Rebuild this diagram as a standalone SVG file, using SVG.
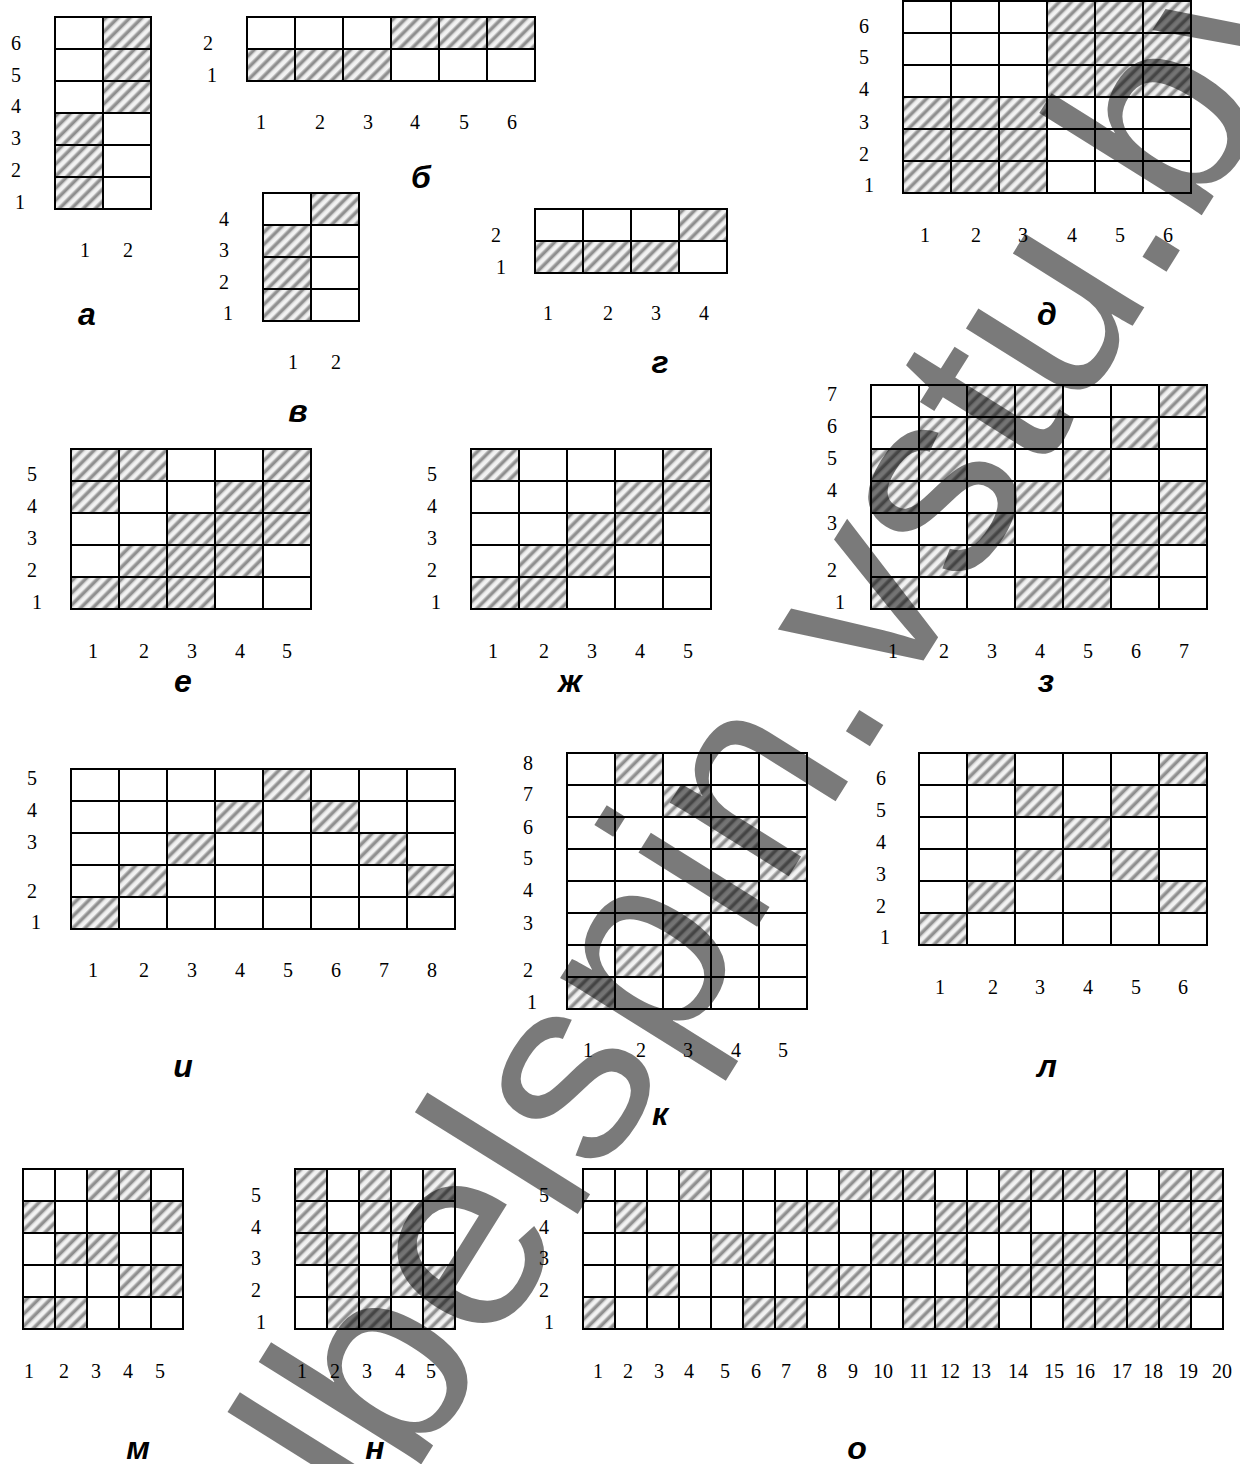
<svg xmlns="http://www.w3.org/2000/svg" width="1240" height="1464" viewBox="0 0 1240 1464">
<style>
.h{fill:url(#hp)}
.g{fill:none;stroke:#000;stroke-width:2}
.n{font-family:"Liberation Serif","Times New Roman",serif;font-size:20px;text-anchor:middle;fill:#000}
.t{font-family:"Liberation Sans",Arial,sans-serif;font-size:32px;font-weight:bold;font-style:italic;text-anchor:middle;fill:#000}
.wm{font-family:"Liberation Sans",Arial,sans-serif;font-size:265px;fill:#000;fill-opacity:.52}
</style>
<defs>
<pattern id="hp" patternUnits="userSpaceOnUse" width="8.5" height="8.5" patternTransform="rotate(45)">
<rect width="8.5" height="8.5" fill="#f2f2f2"/>
<rect x="0" width="5" height="8.5" fill="#c8c8c8"/>
<rect x="1.2" width="2.6" height="8.5" fill="#8e8e8e"/>
</pattern>
</defs>
<rect width="1240" height="1464" fill="#fff"/>

<g id="grid-a">
<rect class="h" x="103" y="17" width="48" height="96"/><rect class="h" x="55" y="113" width="48" height="96"/>
<path class="g" d="M55 17H151V209H55Z M103 17V209 M55 49H151 M55 81H151 M55 113H151 M55 145H151 M55 177H151"/>
<text class="n" x="16" y="50">6</text><text class="n" x="16" y="82">5</text><text class="n" x="16" y="113">4</text><text class="n" x="16" y="145">3</text><text class="n" x="16" y="177">2</text><text class="n" x="20" y="209">1</text>
<text class="n" x="85" y="257">1</text><text class="n" x="128" y="257">2</text>
<text class="t" x="87" y="325">а</text>
</g>

<g id="grid-b">
<rect class="h" x="391" y="17" width="144" height="32"/><rect class="h" x="247" y="49" width="144" height="32"/>
<path class="g" d="M247 17H535V81H247Z M295 17V81 M343 17V81 M391 17V81 M439 17V81 M487 17V81 M247 49H535"/>
<text class="n" x="208" y="50">2</text><text class="n" x="212" y="82">1</text>
<text class="n" x="261" y="129">1</text><text class="n" x="320" y="129">2</text><text class="n" x="368" y="129">3</text><text class="n" x="415" y="129">4</text><text class="n" x="464" y="129">5</text><text class="n" x="512" y="129">6</text>
<text class="t" x="421" y="188">б</text>
</g>

<g id="grid-v">
<rect class="h" x="311" y="193" width="48" height="32"/><rect class="h" x="263" y="225" width="48" height="96"/>
<path class="g" d="M263 193H359V321H263Z M311 193V321 M263 225H359 M263 257H359 M263 289H359"/>
<text class="n" x="224" y="226">4</text><text class="n" x="224" y="257">3</text><text class="n" x="224" y="289">2</text><text class="n" x="228" y="320">1</text>
<text class="n" x="293" y="369">1</text><text class="n" x="336" y="369">2</text>
<text class="t" x="298" y="422">в</text>
</g>

<g id="grid-g">
<rect class="h" x="679" y="209" width="48" height="32"/><rect class="h" x="535" y="241" width="144" height="32"/>
<path class="g" d="M535 209H727V273H535Z M583 209V273 M631 209V273 M679 209V273 M535 241H727"/>
<text class="n" x="496" y="242">2</text><text class="n" x="501" y="274">1</text>
<text class="n" x="548" y="320">1</text><text class="n" x="608" y="320">2</text><text class="n" x="656" y="320">3</text><text class="n" x="704" y="320">4</text>
<text class="t" x="660" y="373">г</text>
</g>

<g id="grid-d">
<rect class="h" x="1047" y="1" width="144" height="96"/><rect class="h" x="903" y="97" width="144" height="96"/>
<path class="g" d="M903 1H1191V193H903Z M951 1V193 M999 1V193 M1047 1V193 M1095 1V193 M1143 1V193 M903 33H1191 M903 65H1191 M903 97H1191 M903 129H1191 M903 161H1191"/>
<text class="n" x="864" y="33">6</text><text class="n" x="864" y="64">5</text><text class="n" x="864" y="96">4</text><text class="n" x="864" y="129">3</text><text class="n" x="864" y="161">2</text><text class="n" x="869" y="192">1</text>
<text class="n" x="925" y="242">1</text><text class="n" x="976" y="242">2</text><text class="n" x="1023" y="242">3</text><text class="n" x="1072" y="242">4</text><text class="n" x="1120" y="242">5</text><text class="n" x="1168" y="242">6</text>
<text class="t" x="1047" y="325">д</text>
</g>

<g id="grid-e">
<rect class="h" x="71" y="449" width="96" height="32"/><rect class="h" x="263" y="449" width="48" height="32"/>
<rect class="h" x="71" y="481" width="48" height="32"/><rect class="h" x="215" y="481" width="96" height="32"/>
<rect class="h" x="167" y="513" width="144" height="32"/>
<rect class="h" x="119" y="545" width="144" height="32"/>
<rect class="h" x="71" y="577" width="144" height="32"/>
<path class="g" d="M71 449H311V609H71Z M119 449V609 M167 449V609 M215 449V609 M263 449V609 M71 481H311 M71 513H311 M71 545H311 M71 577H311"/>
<text class="n" x="32" y="481">5</text><text class="n" x="32" y="513">4</text><text class="n" x="32" y="545">3</text><text class="n" x="32" y="577">2</text><text class="n" x="37" y="609">1</text>
<text class="n" x="93" y="658">1</text><text class="n" x="144" y="658">2</text><text class="n" x="192" y="658">3</text><text class="n" x="240" y="658">4</text><text class="n" x="287" y="658">5</text>
<text class="t" x="183" y="692">е</text>
</g>

<g id="grid-zh">
<rect class="h" x="471" y="449" width="48" height="32"/><rect class="h" x="663" y="449" width="48" height="32"/>
<rect class="h" x="615" y="481" width="96" height="32"/>
<rect class="h" x="567" y="513" width="96" height="32"/>
<rect class="h" x="519" y="545" width="96" height="32"/>
<rect class="h" x="471" y="577" width="96" height="32"/>
<path class="g" d="M471 449H711V609H471Z M519 449V609 M567 449V609 M615 449V609 M663 449V609 M471 481H711 M471 513H711 M471 545H711 M471 577H711"/>
<text class="n" x="432" y="481">5</text><text class="n" x="432" y="513">4</text><text class="n" x="432" y="545">3</text><text class="n" x="432" y="577">2</text><text class="n" x="436" y="609">1</text>
<text class="n" x="493" y="658">1</text><text class="n" x="544" y="658">2</text><text class="n" x="592" y="658">3</text><text class="n" x="640" y="658">4</text><text class="n" x="688" y="658">5</text>
<text class="t" x="570" y="692">ж</text>
</g>

<g id="grid-z">
<rect class="h" x="967" y="385" width="96" height="32"/><rect class="h" x="1159" y="385" width="48" height="32"/>
<rect class="h" x="919" y="417" width="96" height="32"/><rect class="h" x="1111" y="417" width="48" height="32"/>
<rect class="h" x="871" y="449" width="96" height="32"/><rect class="h" x="1063" y="449" width="48" height="32"/>
<rect class="h" x="871" y="481" width="48" height="32"/><rect class="h" x="1015" y="481" width="48" height="32"/><rect class="h" x="1159" y="481" width="48" height="32"/>
<rect class="h" x="967" y="513" width="48" height="32"/><rect class="h" x="1111" y="513" width="96" height="32"/>
<rect class="h" x="919" y="545" width="48" height="32"/><rect class="h" x="1063" y="545" width="96" height="32"/>
<rect class="h" x="871" y="577" width="48" height="32"/><rect class="h" x="1015" y="577" width="96" height="32"/>
<path class="g" d="M871 385H1207V609H871Z M919 385V609 M967 385V609 M1015 385V609 M1063 385V609 M1111 385V609 M1159 385V609 M871 417H1207 M871 449H1207 M871 481H1207 M871 513H1207 M871 545H1207 M871 577H1207"/>
<text class="n" x="832" y="401">7</text><text class="n" x="832" y="433">6</text><text class="n" x="832" y="465">5</text><text class="n" x="832" y="497">4</text><text class="n" x="832" y="530">3</text><text class="n" x="832" y="577">2</text><text class="n" x="840" y="609">1</text>
<text class="n" x="893" y="658">1</text><text class="n" x="944" y="658">2</text><text class="n" x="992" y="658">3</text><text class="n" x="1040" y="658">4</text><text class="n" x="1088" y="658">5</text><text class="n" x="1136" y="658">6</text><text class="n" x="1184" y="658">7</text>
<text class="t" x="1046" y="692">з</text>
</g>

<g id="grid-i">
<rect class="h" x="263" y="769" width="48" height="32"/>
<rect class="h" x="215" y="801" width="48" height="32"/><rect class="h" x="311" y="801" width="48" height="32"/>
<rect class="h" x="167" y="833" width="48" height="32"/><rect class="h" x="359" y="833" width="48" height="32"/>
<rect class="h" x="119" y="865" width="48" height="32"/><rect class="h" x="407" y="865" width="48" height="32"/>
<rect class="h" x="71" y="897" width="48" height="32"/>
<path class="g" d="M71 769H455V929H71Z M119 769V929 M167 769V929 M215 769V929 M263 769V929 M311 769V929 M359 769V929 M407 769V929 M71 801H455 M71 833H455 M71 865H455 M71 897H455"/>
<text class="n" x="32" y="785">5</text><text class="n" x="32" y="817">4</text><text class="n" x="32" y="849">3</text><text class="n" x="32" y="898">2</text><text class="n" x="36" y="929">1</text>
<text class="n" x="93" y="977">1</text><text class="n" x="144" y="977">2</text><text class="n" x="192" y="977">3</text><text class="n" x="240" y="977">4</text><text class="n" x="288" y="977">5</text><text class="n" x="336" y="977">6</text><text class="n" x="384" y="977">7</text><text class="n" x="432" y="977">8</text>
<text class="t" x="183" y="1077">и</text>
</g>

<g id="grid-k">
<rect class="h" x="615" y="753" width="48" height="32"/>
<rect class="h" x="663" y="785" width="48" height="32"/>
<rect class="h" x="711" y="817" width="48" height="32"/>
<rect class="h" x="759" y="849" width="48" height="32"/>
<rect class="h" x="711" y="881" width="48" height="32"/>
<rect class="h" x="663" y="913" width="48" height="32"/>
<rect class="h" x="615" y="945" width="48" height="32"/>
<rect class="h" x="567" y="977" width="48" height="32"/>
<path class="g" d="M567 753H807V1009H567Z M615 753V1009 M663 753V1009 M711 753V1009 M759 753V1009 M567 785H807 M567 817H807 M567 849H807 M567 881H807 M567 913H807 M567 945H807 M567 977H807"/>
<text class="n" x="528" y="770">8</text><text class="n" x="528" y="801">7</text><text class="n" x="528" y="834">6</text><text class="n" x="528" y="865">5</text><text class="n" x="528" y="897">4</text><text class="n" x="528" y="930">3</text><text class="n" x="528" y="977">2</text><text class="n" x="532" y="1009">1</text>
<text class="n" x="588" y="1057">1</text><text class="n" x="641" y="1057">2</text><text class="n" x="688" y="1057">3</text><text class="n" x="736" y="1057">4</text><text class="n" x="783" y="1057">5</text>
<text class="t" x="660" y="1125">к</text>
</g>

<g id="grid-l">
<rect class="h" x="967" y="753" width="48" height="32"/><rect class="h" x="1159" y="753" width="48" height="32"/>
<rect class="h" x="1015" y="785" width="48" height="32"/><rect class="h" x="1111" y="785" width="48" height="32"/>
<rect class="h" x="1063" y="817" width="48" height="32"/>
<rect class="h" x="1015" y="849" width="48" height="32"/><rect class="h" x="1111" y="849" width="48" height="32"/>
<rect class="h" x="967" y="881" width="48" height="32"/><rect class="h" x="1159" y="881" width="48" height="32"/>
<rect class="h" x="919" y="913" width="48" height="32"/>
<path class="g" d="M919 753H1207V945H919Z M967 753V945 M1015 753V945 M1063 753V945 M1111 753V945 M1159 753V945 M919 785H1207 M919 817H1207 M919 849H1207 M919 881H1207 M919 913H1207"/>
<text class="n" x="881" y="785">6</text><text class="n" x="881" y="817">5</text><text class="n" x="881" y="849">4</text><text class="n" x="881" y="881">3</text><text class="n" x="881" y="913">2</text><text class="n" x="885" y="944">1</text>
<text class="n" x="940" y="994">1</text><text class="n" x="993" y="994">2</text><text class="n" x="1040" y="994">3</text><text class="n" x="1088" y="994">4</text><text class="n" x="1136" y="994">5</text><text class="n" x="1183" y="994">6</text>
<text class="t" x="1047" y="1077">л</text>
</g>

<g id="grid-m">
<rect class="h" x="87" y="1169" width="64" height="32"/>
<rect class="h" x="23" y="1201" width="32" height="32"/><rect class="h" x="151" y="1201" width="32" height="32"/>
<rect class="h" x="55" y="1233" width="64" height="32"/>
<rect class="h" x="119" y="1265" width="64" height="32"/>
<rect class="h" x="23" y="1297" width="64" height="32"/>
<path class="g" d="M23 1169H183V1329H23Z M55 1169V1329 M87 1169V1329 M119 1169V1329 M151 1169V1329 M23 1201H183 M23 1233H183 M23 1265H183 M23 1297H183"/>
<text class="n" x="29" y="1378">1</text><text class="n" x="64" y="1378">2</text><text class="n" x="96" y="1378">3</text><text class="n" x="128" y="1378">4</text><text class="n" x="160" y="1378">5</text>
<text class="t" x="138" y="1459">м</text>
</g>

<g id="grid-n">
<rect class="h" x="295" y="1169" width="32" height="32"/><rect class="h" x="359" y="1169" width="32" height="32"/><rect class="h" x="423" y="1169" width="32" height="32"/>
<rect class="h" x="295" y="1201" width="32" height="32"/><rect class="h" x="359" y="1201" width="64" height="32"/>
<rect class="h" x="295" y="1233" width="64" height="32"/><rect class="h" x="391" y="1233" width="32" height="32"/>
<rect class="h" x="327" y="1265" width="32" height="32"/><rect class="h" x="391" y="1265" width="64" height="32"/>
<rect class="h" x="327" y="1297" width="64" height="32"/><rect class="h" x="423" y="1297" width="32" height="32"/>
<path class="g" d="M295 1169H455V1329H295Z M327 1169V1329 M359 1169V1329 M391 1169V1329 M423 1169V1329 M295 1201H455 M295 1233H455 M295 1265H455 M295 1297H455"/>
<text class="n" x="256" y="1202">5</text><text class="n" x="256" y="1234">4</text><text class="n" x="256" y="1265">3</text><text class="n" x="256" y="1297">2</text><text class="n" x="261" y="1329">1</text>
<text class="n" x="302" y="1378">1</text><text class="n" x="335" y="1378">2</text><text class="n" x="367" y="1378">3</text><text class="n" x="400" y="1378">4</text><text class="n" x="431" y="1378">5</text>
<text class="t" x="375" y="1459">н</text>
</g>

<g id="grid-o">
<rect class="h" x="679" y="1169" width="32" height="32"/><rect class="h" x="839" y="1169" width="96" height="32"/><rect class="h" x="999" y="1169" width="128" height="32"/><rect class="h" x="1159" y="1169" width="64" height="32"/>
<rect class="h" x="615" y="1201" width="32" height="32"/><rect class="h" x="775" y="1201" width="64" height="32"/><rect class="h" x="935" y="1201" width="96" height="32"/><rect class="h" x="1095" y="1201" width="128" height="32"/>
<rect class="h" x="711" y="1233" width="64" height="32"/><rect class="h" x="871" y="1233" width="96" height="32"/><rect class="h" x="1031" y="1233" width="128" height="32"/><rect class="h" x="1191" y="1233" width="32" height="32"/>
<rect class="h" x="647" y="1265" width="32" height="32"/><rect class="h" x="807" y="1265" width="64" height="32"/><rect class="h" x="967" y="1265" width="128" height="32"/><rect class="h" x="1127" y="1265" width="96" height="32"/>
<rect class="h" x="583" y="1297" width="32" height="32"/><rect class="h" x="743" y="1297" width="64" height="32"/><rect class="h" x="903" y="1297" width="96" height="32"/><rect class="h" x="1063" y="1297" width="128" height="32"/>
<path class="g" d="M583 1169H1223V1329H583Z M615 1169V1329 M647 1169V1329 M679 1169V1329 M711 1169V1329 M743 1169V1329 M775 1169V1329 M807 1169V1329 M839 1169V1329 M871 1169V1329 M903 1169V1329 M935 1169V1329 M967 1169V1329 M999 1169V1329 M1031 1169V1329 M1063 1169V1329 M1095 1169V1329 M1127 1169V1329 M1159 1169V1329 M1191 1169V1329 M583 1201H1223 M583 1233H1223 M583 1265H1223 M583 1297H1223"/>
<text class="n" x="544" y="1202">5</text><text class="n" x="544" y="1234">4</text><text class="n" x="544" y="1265">3</text><text class="n" x="544" y="1297">2</text><text class="n" x="549" y="1329">1</text>
<text class="n" x="598" y="1378">1</text><text class="n" x="628" y="1378">2</text><text class="n" x="659" y="1378">3</text><text class="n" x="689" y="1378">4</text><text class="n" x="725" y="1378">5</text><text class="n" x="756" y="1378">6</text><text class="n" x="786" y="1378">7</text><text class="n" x="822" y="1378">8</text><text class="n" x="853" y="1378">9</text><text class="n" x="883" y="1378">10</text><text class="n" x="919" y="1378">11</text><text class="n" x="950" y="1378">12</text><text class="n" x="981" y="1378">13</text><text class="n" x="1018" y="1378">14</text><text class="n" x="1054" y="1378">15</text><text class="n" x="1085" y="1378">16</text><text class="n" x="1122" y="1378">17</text><text class="n" x="1153" y="1378">18</text><text class="n" x="1188" y="1378">19</text><text class="n" x="1222" y="1378">20</text>
<text class="t" x="857" y="1459">о</text>
</g>

<g id="connectors"></g>

<g id="watermark">
<text class="wm" x="88.5" y="0" transform="translate(334 1604) rotate(-58)">lbelspin.vstu.by</text>
</g>
</svg>
